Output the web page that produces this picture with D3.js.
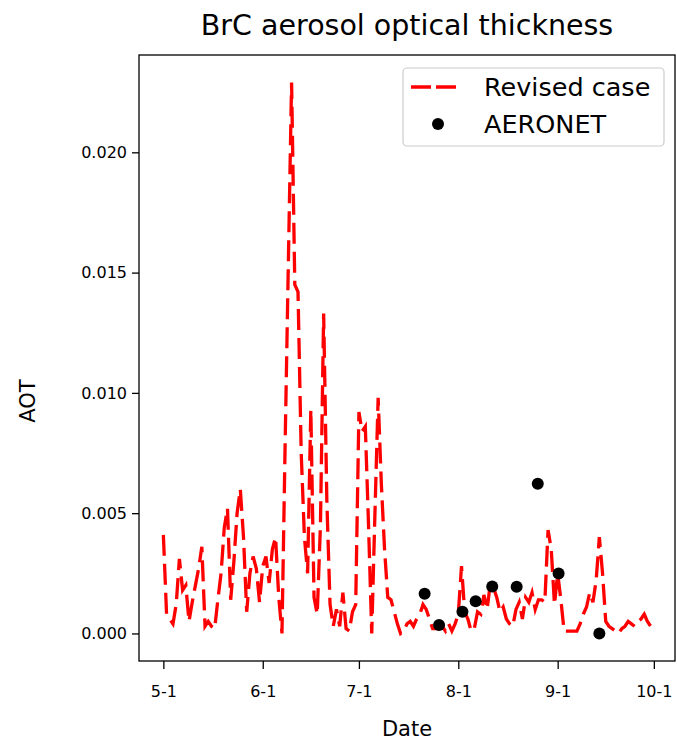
<!DOCTYPE html>
<html><head><meta charset="utf-8">
<script src="https://cdn.jsdelivr.net/npm/d3@7"></script>
<style>body{margin:0;background:#fff}svg{display:block;font-family:"DejaVu Sans",sans-serif}</style>
</head><body><svg id="chart" width="677" height="743"></svg>
<script>
// ---- data ----
const titleText = "BrC aerosol optical thickness";
const xLabel = "Date";
const yLabel = "AOT";
const seriesNames = ["Revised case", "AERONET"];

const seriesStart = "2018-05-01";
const seriesEnd = "2018-10-01"; // exclusive
const mayValues = [0.0041,0.0008,0.0006,0.0004,0.0012,0.0031,0.0018,0.0020,0.0005,0.0013,
  0.0020,0.0027,0.0036,0.0003,0.0005,0.0003,0.0002,0.0014,0.0025,0.0044,
  0.0052,0.0014,0.0030,0.0050,0.0060,0.0040,0.0009,0.0025,0.0032,0.0027,0.0013];
const junValues = [0.0028,0.0032,0.0021,0.0035,0.0040,0.0015,0.0000,0.0080,0.0155,0.0229,
  0.0145,0.0142,0.0075,0.0040,0.0025,0.0093,0.0015,0.0008,0.0045,0.0133,
  0.0055,0.0012,0.0003,0.0010,0.0003,0.0017,0.0002,0.0001,0.0009,0.0012];
const julValues = [0.0092,0.0084,0.0086,0.0045,0.0000,0.0050,0.0098,0.0062,0.0035,0.0015,
  0.0014,0.0009,0.0004,0.0000,0.0001,0.0004,0.0005,0.0003,0.0006,0.0008,
  0.0012,0.0010,0.0006,0.0002,0.0002,0.0002,0.0003,0.0001,0.0004,0.0001,0.0004];
const augValues = [0.0008,0.0028,0.0009,0.0006,0.0001,0.0002,0.0009,0.0008,0.0016,0.0010,
  0.0021,0.0019,0.0015,0.0009,0.0011,0.0006,0.0004,0.0003,0.0010,0.0013,
  0.0006,0.0015,0.0013,0.0017,0.0010,0.0014,0.0014,0.0013,0.0043,0.0035,0.0012];
const sepValues = [0.0025,0.0014,0.0001,0.0001,0.0001,0.0001,0.0001,0.0004,0.0008,0.0011,
  0.0017,0.0013,0.0022,0.0040,0.0025,0.0005,0.0003,0.0002,0.0001,0.0000,
  0.0002,0.0003,0.0005,0.0004,0.0003,0.0005,0.0006,0.0008,0.0005,0.0003];

const aeronetDates = ["2018-07-21T12:00Z","2018-07-26T00:00Z","2018-08-02T07:00Z","2018-08-06T10:00Z",
  "2018-08-11T14:00Z","2018-08-19T05:00Z","2018-08-25T19:00Z","2018-09-01T07:00Z","2018-09-14T00:00Z"];
const aeronetValues = [0.00165,0.00035,0.00090,0.00134,0.00195,0.00194,0.00622,0.00249,0.0000];

const xTickDates = ["2018-05-01","2018-06-01","2018-07-01","2018-08-01","2018-09-01","2018-10-01"];
const xTickLabels = ["5-1","6-1","7-1","8-1","9-1","10-1"];
const yTickValues = [0, 0.005, 0.010, 0.015, 0.020];
const yTickLabels = ["0.000","0.005","0.010","0.015","0.020"];

// ---- build ----
const modelValues = [].concat(mayValues, junValues, julValues, augValues, sepValues);
const modelDates = d3.utcDay.range(new Date(seriesStart + "T00:00Z"), new Date(seriesEnd + "T00:00Z"));
const series = modelDates.map((d, i) => ({date: d, value: modelValues[i]}));
const obs = aeronetDates.map((s, i) => ({date: new Date(s), value: aeronetValues[i]}));

const W = 677, H = 743;
const m = {top: 55, right: 2, bottom: 82, left: 139};
const svg = d3.select("#chart");

const xExt = d3.extent(modelDates);
const span = xExt[1] - xExt[0];
const x = d3.scaleUtc()
  .domain([new Date(+xExt[0] - 0.05 * span), new Date(+xExt[1] + 0.05 * span)])
  .range([m.left, W - m.right]);
const allV = modelValues.concat(aeronetValues);
const yMin = d3.min(allV), yMax = d3.max(allV), yr = yMax - yMin;
const y = d3.scaleLinear()
  .domain([yMin - 0.05 * yr, yMax + 0.05 * yr])
  .range([H - m.bottom, m.top]);

// line
const line = d3.line().x(d => x(d.date)).y(d => y(d.value));
svg.append("path").datum(series)
  .attr("d", line)
  .attr("fill", "none")
  .attr("stroke", "#ff0000")
  .attr("stroke-width", 3.3)
  .attr("stroke-dasharray", "21,8");

// points
svg.append("g").selectAll("circle").data(obs).join("circle")
  .attr("cx", d => x(d.date)).attr("cy", d => y(d.value))
  .attr("r", 6).attr("fill", "#000");

// axes
const xAxis = d3.axisBottom(x)
  .tickValues(xTickDates.map(s => new Date(s + "T00:00Z")))
  .tickFormat((d, i) => xTickLabels[i])
  .tickSizeInner(8).tickSizeOuter(0).tickPadding(17);
const gx = svg.append("g").attr("transform", `translate(0,${H - m.bottom})`).call(xAxis);
const yAxis = d3.axisLeft(y)
  .tickValues(yTickValues)
  .tickFormat((d, i) => yTickLabels[i])
  .tickSizeInner(7).tickSizeOuter(0).tickPadding(5);
const gy = svg.append("g").attr("transform", `translate(${m.left},0)`).call(yAxis);
[gx, gy].forEach(g => {
  g.select(".domain").remove();
  g.selectAll(".tick line").attr("stroke", "#000").attr("stroke-width", 1.3);
  g.selectAll(".tick text").attr("fill", "#000").style("font-size", "16px").style("font-family", "DejaVu Sans");
});

// frame
svg.append("rect")
  .attr("x", m.left).attr("y", m.top)
  .attr("width", W - m.left - m.right).attr("height", H - m.top - m.bottom)
  .attr("fill", "none").attr("stroke", "#000").attr("stroke-width", 1.3);

// title & labels
svg.append("text").attr("x", (m.left + W - m.right) / 2).attr("y", 35)
  .attr("text-anchor", "middle").style("font-size", "28.5px").text(titleText);
svg.append("text").attr("x", (m.left + W - m.right) / 2).attr("y", 736)
  .attr("text-anchor", "middle").style("font-size", "21px").text(xLabel);
svg.append("text").attr("transform", `translate(35,401) rotate(-90)`)
  .attr("text-anchor", "middle").style("font-size", "21px").text(yLabel);

// legend
const lg = svg.append("g");
lg.append("rect").attr("x", 403).attr("y", 68).attr("width", 261).attr("height", 78)
  .attr("rx", 4).attr("fill", "#fff").attr("fill-opacity", 0.8)
  .attr("stroke", "#cccccc").attr("stroke-width", 1.2);
lg.append("line").attr("x1", 411).attr("x2", 456).attr("y1", 87).attr("y2", 87)
  .attr("stroke", "#ff0000").attr("stroke-width", 3.3).attr("stroke-dasharray", "20,5");
lg.append("circle").attr("cx", 438).attr("cy", 124).attr("r", 6).attr("fill", "#000");
lg.selectAll("text.lt").data(seriesNames).join("text").attr("class", "lt")
  .attr("x", 484).attr("y", (d, i) => 87 + i * 37)
  .attr("dominant-baseline", "central")
  .style("font-size", "25.5px").text(d => d);
</script></body></html>
